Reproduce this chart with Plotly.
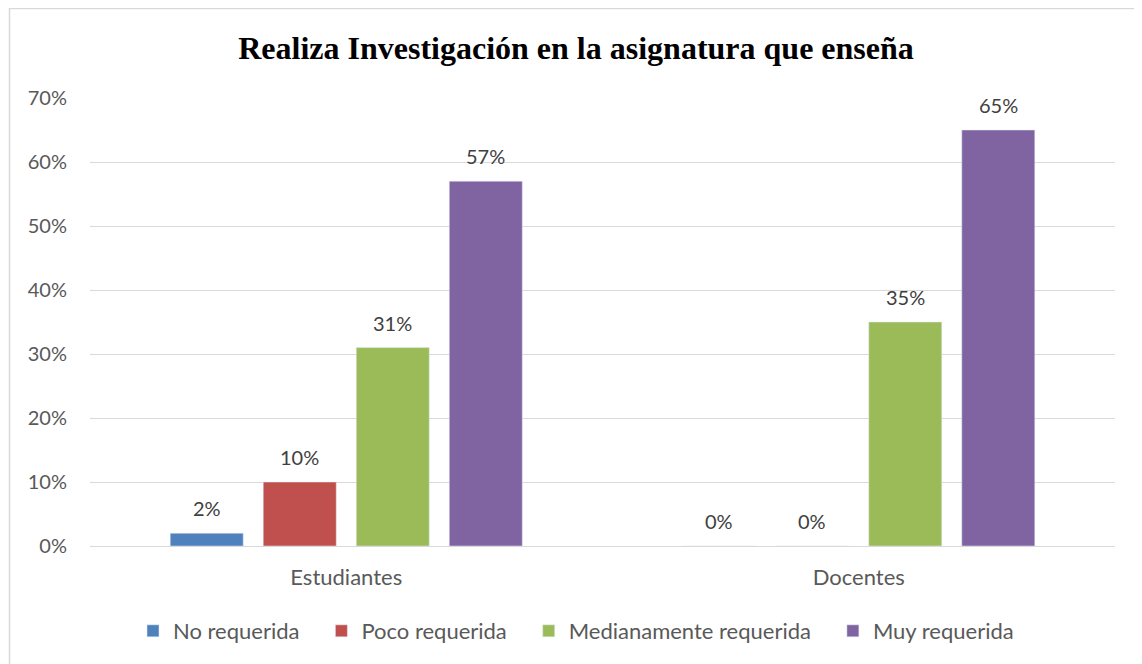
import plotly.graph_objects as go

categories = ["Estudiantes", "Docentes"]
series_names = ["No requerida", "Poco requerida", "Medianamente requerida", "Muy requerida"]
no_requerida = [2, 0]
poco_requerida = [10, 0]
medianamente = [31, 35]
muy_requerida = [57, 65]
colors = ["#4F81BD", "#C0504D", "#9BBB59", "#8064A2"]

values = [no_requerida, poco_requerida, medianamente, muy_requerida]
FONT = "Lato, sans-serif"
PAD = "\u00a0" * 3  # extra room between legend entries

# the page body adds 8px, so everything is laid out 8px up/left of the reference
W, H = 1142, 664
ml, mt = 82, 90
pw, ph = 1025, 448
mr, mb = W - ml - pw, H - mt - ph
bargap, bargroupgap = 0.274, 0.215
slot = pw / len(categories) * (1 - bargap) / len(values)

fig = go.Figure()
annotations = []
for i, (name, vals, col) in enumerate(zip(series_names, values, colors)):
    label = name + (PAD if i < len(series_names) - 1 else "")
    fig.add_trace(go.Bar(x=categories, y=vals, name=label, marker_color=col))
    # data labels sit well above the bar, Excel style
    for cat, v in zip(categories, vals):
        annotations.append(dict(
            x=cat, y=v, xref="x", yref="y", text=f"{v}%", showarrow=False,
            xshift=(i - 1.5) * slot, yshift=25, yanchor="middle",
            font=dict(family=FONT, size=20, color="#404040"),
        ))

fig.update_layout(
    width=W, height=H,
    margin=dict(l=ml, r=mr, t=mt, b=mb),
    paper_bgcolor="white", plot_bgcolor="white",
    barmode="group", bargap=bargap, bargroupgap=bargroupgap,
    title=dict(text="<b>Realiza Investigación en la asignatura que enseña</b>",
               x=(576 - 8 - ml) / pw, xref="paper", xanchor="center",
               y=1 - 40 / H, yanchor="middle",
               font=dict(family="Liberation Serif, Times New Roman, serif", size=32, color="black")),
    font=dict(family=FONT, size=20, color="#595959"),
    legend=dict(orientation="h", x=(125 - ml) / pw, xanchor="left", y=-(631 - 546) / ph, yanchor="middle",
                font=dict(size=22, color="#595959"), itemwidth=30, traceorder="normal"),
    xaxis=dict(showline=False, ticks="", tickfont=dict(size=22, color="#595959"),
               ticklabelstandoff=16),
    yaxis=dict(range=[0, 70], dtick=10, ticksuffix="%", showgrid=True, gridcolor="#D9D9D9",
               gridwidth=1, zeroline=True, zerolinecolor="#D9D9D9", zerolinewidth=1,
               tickfont=dict(size=20, color="#595959"), ticklabelstandoff=22),
    annotations=annotations,
    shapes=[
        dict(type="line", xref="paper", yref="paper",
             x0=(1.5 - ml) / pw, x1=(1.5 - ml) / pw, y0=(H - mb - H) / ph, y1=(H - mb) / ph,
             line=dict(color="#D9D9D9", width=1.5)),
        dict(type="line", xref="paper", yref="paper",
             x0=(1.5 - ml) / pw, x1=(W - ml) / pw, y0=(H - mb - 0.5) / ph, y1=(H - mb - 0.5) / ph,
             line=dict(color="#D9D9D9", width=1.5)),
    ],
)

fig.write_html("out.html")
